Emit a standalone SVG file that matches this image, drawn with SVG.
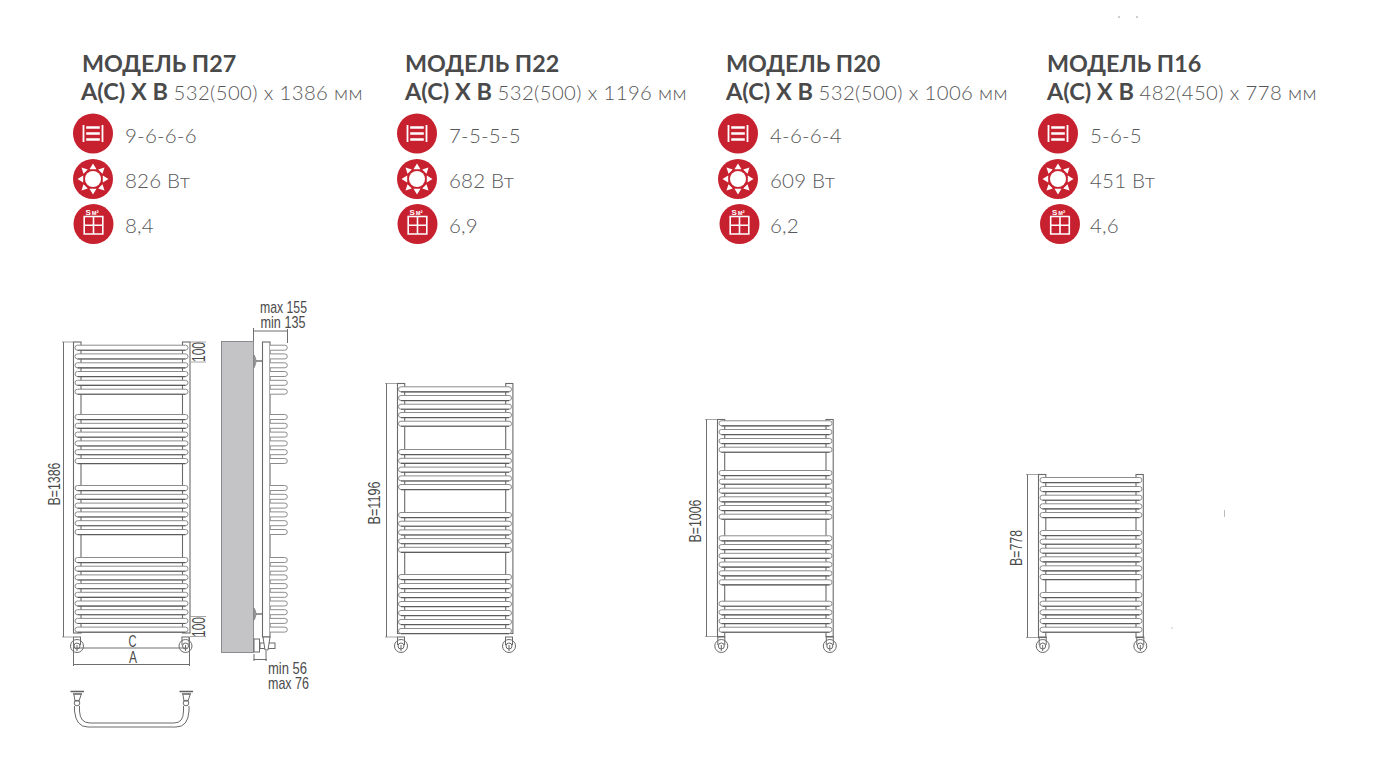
<svg xmlns="http://www.w3.org/2000/svg" width="1400" height="759" viewBox="0 0 1400 759">
<style>
.h1{font:700 23.300px Lato,"Noto Sans",sans-serif;fill:#4a4a4b}
.h2{font:700 23.500px Lato,"Noto Sans",sans-serif;fill:#4a4a4b}
.lt{font-family:Lato,"Noto Sans",sans-serif;font-weight:300;font-size:20.300px;fill:#58585a;letter-spacing:.4px}
.sp{font-family:Lato,"Noto Sans",sans-serif;font-weight:300;font-size:20.500px;fill:#58585a;letter-spacing:.2px}
.dim{font-family:"Liberation Sans",Arial,sans-serif;fill:#4a4a4a;font-size:17px}
.d100{font-size:19px}
.ln{fill:none;stroke:#6f6f70;stroke-width:1}
.tk{fill:none;stroke:#a5a5a6;stroke-width:1}
.rail{fill:#fff;stroke:#6a6a6b;stroke-width:1.100}
.bar{fill:#fff;stroke:#8c8c8d;stroke-width:1}
.barl{fill:none;stroke:#5c5c5d;stroke-width:1.100}
.wh{fill:none;stroke:#6a6a6b;stroke-width:1}
.w{fill:#fff}
.wl{fill:none;stroke:#fff;stroke-width:1.600}
.red{fill:#c7202f}
.sm{font:700 8px "Liberation Sans",Arial,sans-serif;fill:#fff}
.sn{font:700 6.500px "Liberation Sans",Arial,sans-serif;fill:#fff}
</style>
<defs>
<g id="b113"><rect x="0" y="-2.500" width="113" height="5" rx="2.500" class="bar"/><path d="M2.500 2.600H110.500" class="barl"/></g>
<g id="b102"><rect x="0" y="-2.500" width="102" height="5" rx="2.500" class="bar"/><path d="M2.500 2.600H99.500" class="barl"/></g>
<path id="bs" d="M0-2.500H14.800a2.500 2.500 0 0 1 0 5H0" class="bar"/>
<g id="foot">
<circle r="6.500" class="wh"/><circle r="3" class="wh"/>
<path d="M-3.500-9V-1M3.500-9V-1M-4-9H4" class="wh"/>
<path d="M0-1V5" class="wh"/>
</g>
<g id="ic1">
<circle r="20" class="red"/>
<path d="M-9.500-8.500V8.500M9.500-8.500V8.500" fill="none" stroke="#fff" stroke-width="1.800"/>
<path d="M-6.800-6H6.800M-6.800 0H6.800M-6.800 6H6.800" fill="none" stroke="#fff" stroke-width="2.500"/>
</g>
<g id="ic2">
<circle r="20" class="red"/>
<circle r="8" class="w"/>
<path d="M0-15.500 3.500-9.800H-3.500ZM0 15.500 3.500 9.800H-3.500ZM-15.500 0-9.800 3.500V-3.500ZM15.500 0 9.800 3.500V-3.500ZM-11.500-11.500-5.200-9.500-9.500-5.200ZM11.500-11.500 5.200-9.500 9.500-5.200ZM-11.500 11.500-5.200 9.500-9.500 5.200ZM11.500 11.500 5.200 9.500 9.500 5.200Z" class="w"/>
</g>
<g id="ic3">
<circle r="20" class="red"/>
<text x="-8" y="-9.500" class="sm">S</text>
<text x="-1.800" y="-9.500" class="sn">м²</text>
<path d="M-9.300-7.500H9.300V10H-9.300ZM0-7.500V10M-9.300 1.200H9.300" class="wl"/>
</g>
</defs>

<g id="specks" fill="#777"><circle cx="1119" cy="17" r=".7"/><circle cx="1137" cy="17" r=".7"/><circle cx="1172" cy="628" r=".6"/><rect x="1224" y="510" width="1" height="7" fill="#bbb"/></g>

<g id="model-p27-specs">
<text x="82" y="72" class="h1">МОДЕЛЬ П27</text>
<text x="81" y="100" class="h2">А(С) Х В <tspan class="lt">532(500) x 1386 мм</tspan></text>
<use href="#ic1" x="93" y="133.500"/><use href="#ic2" x="93" y="179"/><use href="#ic3" x="93.500" y="224"/>
<text x="125" y="143" class="sp">9-6-6-6</text><text x="125" y="188" class="sp">826 Вт</text><text x="125" y="233" class="sp">8,4</text>
</g>
<g id="model-p22-specs">
<text x="405" y="72" class="h1">МОДЕЛЬ П22</text>
<text x="405" y="100" class="h2">А(С) Х В <tspan class="lt">532(500) x 1196 мм</tspan></text>
<use href="#ic1" x="417" y="133.500"/><use href="#ic2" x="417" y="179"/><use href="#ic3" x="417.500" y="224"/>
<text x="449" y="143" class="sp">7-5-5-5</text><text x="449" y="188" class="sp">682 Вт</text><text x="449" y="233" class="sp">6,9</text>
</g>
<g id="model-p20-specs">
<text x="726" y="72" class="h1">МОДЕЛЬ П20</text>
<text x="726" y="100" class="h2">А(С) Х В <tspan class="lt">532(500) x 1006 мм</tspan></text>
<use href="#ic1" x="738" y="133.500"/><use href="#ic2" x="738" y="179"/><use href="#ic3" x="739.500" y="224"/>
<text x="770" y="143" class="sp">4-6-6-4</text><text x="770" y="188" class="sp">609 Вт</text><text x="770" y="233" class="sp">6,2</text>
</g>
<g id="model-p16-specs">
<text x="1047" y="72" class="h1">МОДЕЛЬ П16</text>
<text x="1047" y="100" class="h2">А(С) Х В <tspan class="lt">482(450) x 778 мм</tspan></text>
<use href="#ic1" x="1058" y="133.500"/><use href="#ic2" x="1058" y="179"/><use href="#ic3" x="1060" y="224"/>
<text x="1090" y="143" class="sp">5-6-5</text><text x="1090" y="188" class="sp">451 Вт</text><text x="1090" y="233" class="sp">4,6</text>
</g>

<g id="rail-p27">
<rect x="73.500" y="342" width="7.500" height="291" class="rail"/><rect x="182.500" y="342" width="7.500" height="291" class="rail"/>
<use href="#b113" x="75" y="347.700"/><use href="#b113" x="75" y="356.400"/><use href="#b113" x="75" y="365.300"/><use href="#b113" x="75" y="374"/><use href="#b113" x="75" y="382.800"/><use href="#b113" x="75" y="391.700"/>
<use href="#b113" x="75" y="417"/><use href="#b113" x="75" y="425.800"/><use href="#b113" x="75" y="434.600"/><use href="#b113" x="75" y="443.400"/><use href="#b113" x="75" y="452.200"/><use href="#b113" x="75" y="461"/>
<use href="#b113" x="75" y="488"/><use href="#b113" x="75" y="496.800"/><use href="#b113" x="75" y="505.600"/><use href="#b113" x="75" y="514.400"/><use href="#b113" x="75" y="523.200"/><use href="#b113" x="75" y="532"/>
<use href="#b113" x="75" y="560"/><use href="#b113" x="75" y="568.700"/><use href="#b113" x="75" y="577.400"/><use href="#b113" x="75" y="586.100"/><use href="#b113" x="75" y="594.800"/><use href="#b113" x="75" y="603.500"/><use href="#b113" x="75" y="612.200"/><use href="#b113" x="75" y="620.900"/><use href="#b113" x="75" y="629.600"/>
<use href="#foot" x="77" y="646"/><use href="#foot" x="185.500" y="646"/>
</g>
<g id="rail-p27-side">
<rect x="221.500" y="341.500" width="32" height="311" fill="#c4c4c6" stroke="#77777a" stroke-width=".8"/>
<path d="M254 355Q258 361 254 367.700Z" fill="#a0a0a1" stroke="#808081" stroke-width=".8"/>
<path d="M254 608Q258 614 254 620Z" fill="#a0a0a1" stroke="#808081" stroke-width=".8"/>
<path d="M256 361H262.500M256 614H262.500" fill="none" stroke="#767677" stroke-width="1.600"/>
<rect x="262.500" y="342" width="7.500" height="295" class="rail"/>
<use href="#bs" x="270" y="347.700"/><use href="#bs" x="270" y="356.400"/><use href="#bs" x="270" y="365.300"/><use href="#bs" x="270" y="374"/><use href="#bs" x="270" y="382.800"/><use href="#bs" x="270" y="391.700"/>
<use href="#bs" x="270" y="417"/><use href="#bs" x="270" y="425.800"/><use href="#bs" x="270" y="434.600"/><use href="#bs" x="270" y="443.400"/><use href="#bs" x="270" y="452.200"/><use href="#bs" x="270" y="461"/>
<use href="#bs" x="270" y="488"/><use href="#bs" x="270" y="496.800"/><use href="#bs" x="270" y="505.600"/><use href="#bs" x="270" y="514.400"/><use href="#bs" x="270" y="523.200"/><use href="#bs" x="270" y="532"/>
<use href="#bs" x="270" y="560"/><use href="#bs" x="270" y="568.700"/><use href="#bs" x="270" y="577.400"/><use href="#bs" x="270" y="586.100"/><use href="#bs" x="270" y="594.800"/><use href="#bs" x="270" y="603.500"/><use href="#bs" x="270" y="612.200"/><use href="#bs" x="270" y="620.900"/><use href="#bs" x="270" y="629.600"/>
<rect x="260" y="643" width="15" height="5.500" fill="#fff" stroke="#6a6a6b" stroke-width="1"/>
<rect x="254" y="639" width="5.500" height="13" fill="#fff" stroke="#6a6a6b" stroke-width="1"/>
<path d="M263 637H270L268 650H265Z" fill="#fff" stroke="#6a6a6b" stroke-width="1"/>
</g>
<g id="bottom-connector">
<path d="M70.500 691.500H84M73 694H82M179.500 691.500H193M182 694H191" fill="none" stroke="#5f5f60" stroke-width="1.600"/>
<path d="M74 695 75 701H79L81 695M183 695 184 701H188L190 695" class="wh"/>
<circle cx="77" cy="703" r="2.800" class="wh"/><circle cx="186" cy="703" r="2.800" class="wh"/>
<path d="M74.500 706V711Q76 727 88 727H176Q188 727 189 711V706" class="wh" stroke-width="1.100"/>
<path d="M79.500 706V711Q80 723 90 723H174Q183.500 723 183.500 711V706" class="wh" stroke-width="1.100"/>
</g>
<g id="rail-p22">
<rect x="397.500" y="383.500" width="7.200" height="250" class="rail"/><rect x="505.700" y="383.500" width="7.200" height="250" class="rail"/>
<use href="#b113" x="398.500" y="389.300"/><use href="#b113" x="398.500" y="398"/><use href="#b113" x="398.500" y="406.700"/><use href="#b113" x="398.500" y="415"/><use href="#b113" x="398.500" y="423.700"/>
<use href="#b113" x="398.500" y="452"/><use href="#b113" x="398.500" y="460.800"/><use href="#b113" x="398.500" y="469.600"/><use href="#b113" x="398.500" y="478.400"/><use href="#b113" x="398.500" y="487"/>
<use href="#b113" x="398.500" y="515"/><use href="#b113" x="398.500" y="523.700"/><use href="#b113" x="398.500" y="532.400"/><use href="#b113" x="398.500" y="541.100"/><use href="#b113" x="398.500" y="549.800"/>
<use href="#b113" x="398.500" y="577"/><use href="#b113" x="398.500" y="586"/><use href="#b113" x="398.500" y="595"/><use href="#b113" x="398.500" y="604"/><use href="#b113" x="398.500" y="613"/><use href="#b113" x="398.500" y="622"/><use href="#b113" x="398.500" y="631"/>
<use href="#foot" x="401" y="646"/><use href="#foot" x="509" y="646"/>
</g>
<g id="rail-p20">
<rect x="717.500" y="419.500" width="7.200" height="217" class="rail"/><rect x="826" y="419.500" width="7.200" height="217" class="rail"/>
<use href="#b113" x="719" y="423.300"/><use href="#b113" x="719" y="432"/><use href="#b113" x="719" y="441"/><use href="#b113" x="719" y="449.700"/>
<use href="#b113" x="719" y="473"/><use href="#b113" x="719" y="481.700"/><use href="#b113" x="719" y="490.700"/><use href="#b113" x="719" y="499.300"/><use href="#b113" x="719" y="508"/><use href="#b113" x="719" y="516.700"/>
<use href="#b113" x="719" y="538.300"/><use href="#b113" x="719" y="547"/><use href="#b113" x="719" y="555.800"/><use href="#b113" x="719" y="564.500"/><use href="#b113" x="719" y="573.300"/><use href="#b113" x="719" y="582.300"/>
<use href="#b113" x="719" y="603.700"/><use href="#b113" x="719" y="612.300"/><use href="#b113" x="719" y="621"/><use href="#b113" x="719" y="629.700"/>
<use href="#foot" x="721.300" y="646"/><use href="#foot" x="829.800" y="646"/>
</g>
<g id="rail-p16">
<rect x="1038.500" y="474.500" width="7.300" height="163" class="rail"/><rect x="1136" y="474.500" width="7.300" height="163" class="rail"/>
<use href="#b102" x="1040" y="480"/><use href="#b102" x="1040" y="489"/><use href="#b102" x="1040" y="497.700"/><use href="#b102" x="1040" y="506.300"/><use href="#b102" x="1040" y="515"/>
<use href="#b102" x="1040" y="533"/><use href="#b102" x="1040" y="541.700"/><use href="#b102" x="1040" y="550.700"/><use href="#b102" x="1040" y="559.300"/><use href="#b102" x="1040" y="568.300"/><use href="#b102" x="1040" y="577"/>
<use href="#b102" x="1040" y="595"/><use href="#b102" x="1040" y="603.700"/><use href="#b102" x="1040" y="612.300"/><use href="#b102" x="1040" y="621"/><use href="#b102" x="1040" y="629.700"/>
<use href="#foot" x="1042.700" y="646"/><use href="#foot" x="1140.300" y="646"/>
</g>

<g id="connectors">
<path class="tk" d="M62 342H73M62 637H73"/><path class="ln" d="M63.500 342V637"/>
<path class="tk" d="M190 342H206M190 362H206M190 616.500H206M190 636.500H206"/>
<path class="ln" d="M253.500 328V341M287.500 329V343M253.500 331H288"/>
<path class="ln" d="M254 654V661M266 651V661M253.500 659.500H267"/>
<path class="ln" d="M75 648H187M73.500 637V666M189.500 637V666M73.500 664.500H189.500"/>
<path class="tk" d="M385 383.500H397M385 637H397"/><path class="ln" d="M386.500 383.500V637"/>
<path class="tk" d="M705 419.500H717M705 636.500H717"/><path class="ln" d="M706.500 419.500V636.500"/>
<path class="tk" d="M1026 474.500H1038M1026 637.500H1038"/><path class="ln" d="M1027.500 474.500V637.500"/>
</g>
<g id="dimension-labels">
<text class="dim" transform="translate(59.500,484) rotate(-90)" text-anchor="middle" textLength="43" lengthAdjust="spacingAndGlyphs">B=1386</text>
<text class="dim" transform="translate(380,503) rotate(-90)" text-anchor="middle" textLength="43" lengthAdjust="spacingAndGlyphs">B=1196</text>
<text class="dim" transform="translate(700.500,521) rotate(-90)" text-anchor="middle" textLength="43" lengthAdjust="spacingAndGlyphs">B=1006</text>
<text class="dim" transform="translate(1022,548) rotate(-90)" text-anchor="middle" textLength="36" lengthAdjust="spacingAndGlyphs">B=778</text>
<text class="dim d100" transform="translate(205,352) rotate(-90)" text-anchor="middle" textLength="20" lengthAdjust="spacingAndGlyphs">100</text>
<text class="dim d100" transform="translate(205,627) rotate(-90)" text-anchor="middle" textLength="20" lengthAdjust="spacingAndGlyphs">100</text>
<text class="dim" x="260" y="313" textLength="47" lengthAdjust="spacingAndGlyphs">max 155</text>
<text class="dim" x="260.500" y="328" textLength="45" lengthAdjust="spacingAndGlyphs">min 135</text>
<text class="dim" x="268" y="673.500" textLength="39" lengthAdjust="spacingAndGlyphs">min 56</text>
<text class="dim" x="268" y="688.500" textLength="41" lengthAdjust="spacingAndGlyphs">max 76</text>
<text class="dim" x="132.500" y="647" text-anchor="middle" textLength="8" lengthAdjust="spacingAndGlyphs">C</text>
<text class="dim" x="133" y="663" text-anchor="middle" textLength="8" lengthAdjust="spacingAndGlyphs">A</text>
</g>
</svg>
